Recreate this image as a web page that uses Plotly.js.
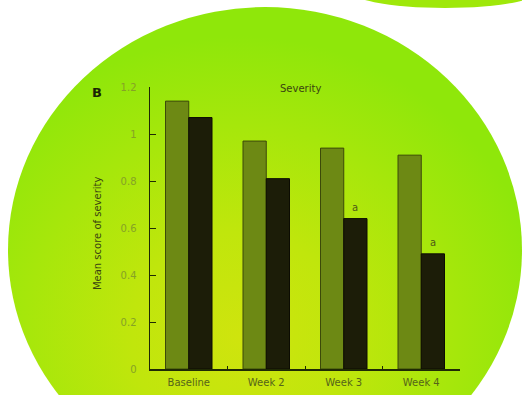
<!DOCTYPE html>
<html>
<head>
<meta charset="utf-8">
<script src="https://cdn.plot.ly/plotly-3.0.1.min.js"></script>
<style>
  html, body { margin: 0; padding: 0; background: #ffffff; }
  #stage { position: relative; width: 522px; height: 395px; overflow: hidden; background: #ffffff; }
  .blob { position: absolute; border-radius: 50%; }
  #blobMain {
    left: 8px; top: 7px; width: 514px; height: 486px;
    background: radial-gradient(ellipse 60% 62% at 45% 68%, #cfe40e 0%, #c0e60c 35%, #a6e70b 70%, #8fe70a 100%);
  }
  #blobCorner {
    left: 345px; top: -32px; width: 200px; height: 40px;
    background: #9fe80a;
  }
  #chart { position: absolute; left: 0; top: 0; width: 522px; height: 395px; }
</style>
</head>
<body>
<div id="stage">
  <div class="blob" id="blobMain"></div>
  <div class="blob" id="blobCorner"></div>
  <div id="chart"></div>
</div>
<script>
// Mean severity score per visit, two groups
const categories = ['Baseline', 'Week 2', 'Week 3', 'Week 4'];
const groupA = [1.14, 0.97, 0.94, 0.91];
const groupB = [1.07, 0.81, 0.64, 0.49];
const markB = ['', '', 'a', 'a'];
const yTicks = [0, 0.2, 0.4, 0.6, 0.8, 1, 1.2];
const yTickText = ['0', '0.2', '0.4', '0.6', '0.8', '1', '1.2'];

const font = 'DejaVu Sans, Verdana, sans-serif';

const traces = [
  {
    type: 'bar', x: categories, y: groupA,
    marker: { color: '#6d8914', line: { color: '#3c4a08', width: 1 } },
    hoverinfo: 'none'
  },
  {
    type: 'bar', x: categories, y: groupB,
    marker: { color: '#1c1d08', line: { color: '#0c0c02', width: 1 } },
    hoverinfo: 'none'
  }
];

// significance marks above the second group's bars (bar centre = category + 0.15)
const markNotes = markB
  .map((m, i) => ({ m, i }))
  .filter(d => d.m)
  .map(d => ({
    text: d.m, xref: 'x', yref: 'y', x: d.i + 0.15, y: groupB[d.i],
    xanchor: 'center', yanchor: 'bottom', yshift: 4, showarrow: false,
    font: { family: font, size: 10, color: '#4e5a18' }
  }));

const layout = {
  width: 522, height: 395,
  margin: { l: 150, r: 62, t: 87, b: 26 },
  paper_bgcolor: 'rgba(0,0,0,0)',
  plot_bgcolor: 'rgba(0,0,0,0)',
  showlegend: false,
  barmode: 'group', bargap: 0.4, bargroupgap: 0,
  font: { family: font, size: 10, color: '#3a4410' },
  xaxis: {
    type: 'category', range: [-0.5, 3.5],
    showline: true, linecolor: '#1f2a04', linewidth: 1.5,
    ticks: 'inside', tickson: 'boundaries', ticklen: 3, tickcolor: '#1f2a04',
    showgrid: false, zeroline: false,
    tickfont: { family: font, size: 10, color: '#55641a' },
    ticklabelstandoff: 3
  },
  yaxis: {
    range: [0, 1.2], tickvals: yTicks, ticktext: yTickText,
    showline: true, linecolor: '#1f2a04', linewidth: 1.5,
    ticks: 'inside', ticklen: 6, tickcolor: '#1f2a04',
    showgrid: false, zeroline: false,
    tickfont: { family: font, size: 10, color: '#86a226' },
    ticklabelstandoff: 10
  },
  annotations: [
    { text: 'Severity', xref: 'paper', yref: 'paper', x: 0.487, y: 0.996,
      xanchor: 'center', yanchor: 'middle', showarrow: false,
      font: { family: font, size: 10, color: '#3a4410' } },
    { text: '<b>B</b>', xref: 'paper', yref: 'paper', x: -0.171, y: 0.979,
      xanchor: 'center', yanchor: 'middle', showarrow: false,
      font: { family: font, size: 13, color: '#1a2404' } },
    { text: 'Mean score of severity', xref: 'paper', yref: 'paper', x: -0.171, y: 0.482,
      xanchor: 'center', yanchor: 'middle', showarrow: false, textangle: -90,
      font: { family: font, size: 10, color: '#3a4410' } }
  ].concat(markNotes)
};

Plotly.newPlot('chart', traces, layout, { displayModeBar: false, staticPlot: true });
</script>
</body>
</html>
